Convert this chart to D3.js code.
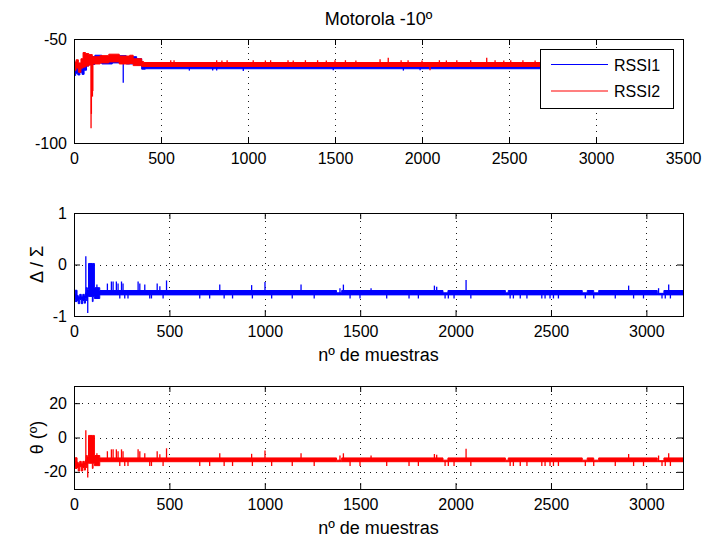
<!DOCTYPE html>
<html>
<head>
<meta charset="utf-8">
<script src="https://cdn.jsdelivr.net/npm/d3@7"></script>
<style>
  html, body { margin: 0; padding: 0; background: #fff; }
  svg text { font-family: Arial, "Liberation Sans", Helvetica, sans-serif; fill: #000; }
</style>
</head>
<body>
<svg id="fig" width="704" height="540"></svg>
<script>
// ---------- data ----------
// Dense traces are stored as stepped bands: [sample, low, high] holds from
// that sample until the next breakpoint. Single-sample excursions are spikes: [sample, value].

const seriesNames = ["RSSI1", "RSSI2"];
const titleText = "Motorola -10º";
const xLabelText = "nº de muestras";

const rssiXTicks = [0, 500, 1000, 1500, 2000, 2500, 3000, 3500];
const rssiYTicks = [-100, -50];
const sampleXTicks = [0, 500, 1000, 1500, 2000, 2500, 3000];
const ratioYTicks = [-1, 0, 1];
const thetaYTicks = [-20, 0, 20];
const sampleCount = 3192;

const rssi1Band = [
  [0, -67.5, -63.5], [10, -66.5, -62.5], [22, -67.3, -64], [34, -66, -62.5], [46, -67, -63.5],
  [58, -65, -61.5], [72, -63, -59.5], [85, -62.2, -58.5], [120, -61.5, -57.8], [160, -62, -58.5],
  [220, -61.5, -58], [300, -62, -58.5], [360, -62.5, -59.5], [389, -64.5, -62.5],
  [410, -64.3, -63.0], [3190, -64.3, -63.0]
];
const rssi1Spikes = [
  [283, -71], [663, -65.2], [797, -65.2], [820, -65.2], [973, -65.4], [1490, -65],
  [1893, -65.2], [1989, -65]
];
const rssi2Band = [
  [0, -65, -61], [12, -64, -60], [25, -66, -61.5], [40, -64, -59.5], [52, -63.5, -56.5],
  [66, -63, -57], [85, -62.5, -57.5], [105, -62, -58.5], [150, -61.5, -58], [200, -61, -57.3],
  [260, -62, -58.2], [320, -61.8, -57.8], [340, -62.8, -59.5], [389, -63.2, -60.8],
  [400, -63.2, -61.3], [3190, -63.2, -61.3]
];
const rssi2Spikes = [
  [98, -92.9], [100, -86], [106, -77.7], [108, -75],
  [556, -60.2], [575, -60.2], [820, -60.2], [850, -60.3], [880, -60.2], [1030, -60.2],
  [1100, -60.3], [1130, -60.2], [1230, -60.2], [1260, -60.3], [1330, -60.2], [1400, -60.2],
  [1450, -60.3], [1500, -60.2], [1560, -60.2], [1620, -60.3], [1759, -59.7], [1806, -59.0],
  [1880, -60.2], [1920, -60.2], [2000, -60.3], [2046, -65], [2100, -60.2], [2140, -60.3],
  [2200, -60.2], [2280, -60.2], [2372, -59.0], [2420, -60.2], [2470, -60.3], [2510, -60.2],
  [2580, -60.2], [2650, -60.3]
];

const ratioBand = [
  [0, -0.68, -0.57], [6, -0.72, -0.50], [16, -0.70, -0.60], [22, -0.76, -0.62], [30, -0.68, -0.58],
  [38, -0.76, -0.62], [46, -0.70, -0.58], [54, -0.75, -0.60], [60, -0.66, -0.55], [64, -0.70, -0.45],
  [70, -0.62, -0.48], [76, -0.62, 0.02], [96, -0.72, 0.02], [100, -0.62, 0.02], [107, -0.66, -0.45],
  [135, -0.59, -0.505], [1376, -0.59, -0.55], [1403, -0.59, -0.505], [1934, -0.59, -0.55],
  [1960, -0.59, -0.505], [2261, -0.59, -0.55], [2276, -0.59, -0.505], [2664, -0.59, -0.55],
  [2690, -0.59, -0.505], [2724, -0.59, -0.55], [2750, -0.59, -0.505], [3057, -0.59, -0.56],
  [3092, -0.59, -0.505], [3192, -0.59, -0.505]
];
const ratioSpikes = [
  [62, 0.16], [72, -0.94], [120, -0.39], [175, -0.37], [196, -0.33], [205, -0.33], [222, -0.33],
  [231, -0.37], [240, -0.66], [249, -0.33], [257, -0.37], [266, -0.66], [283, -0.66], [336, -0.33],
  [345, -0.37], [371, -0.39], [397, -0.66], [406, -0.66], [436, -0.37], [450, -0.42], [467, -0.66],
  [485, -0.31], [659, -0.66], [711, -0.66], [764, -0.39], [787, -0.66], [831, -0.66], [931, -0.40],
  [935, -0.66], [1001, -0.34], [1036, -0.66], [1144, -0.66], [1190, -0.39], [1259, -0.66],
  [1394, -0.46], [1412, -0.39], [1447, -0.66], [1499, -0.66], [1557, -0.46], [1639, -0.66],
  [1756, -0.66], [1805, -0.66], [1889, -0.41], [1901, -0.43], [1945, -0.66], [1962, -0.66],
  [1992, -0.66], [2055, -0.30], [2080, -0.66], [2286, -0.66], [2303, -0.66], [2339, -0.66],
  [2374, -0.66], [2452, -0.66], [2469, -0.66], [2495, -0.66], [2513, -0.66], [2539, -0.66],
  [2680, -0.66], [2724, -0.66], [2837, -0.66], [2907, -0.41], [2933, -0.66], [2985, -0.66],
  [3064, -0.46], [3082, -0.66], [3099, -0.66], [3117, -0.39], [3126, -0.66]
];

const thetaBand = [
  [0, -17, -13.6], [6, -18, -11.8], [16, -17.5, -14.4], [22, -19.5, -15], [30, -17, -13.9],
  [38, -19.5, -15], [46, -17.5, -13.9], [54, -19, -14.4], [60, -16.4, -13.2], [64, -17.5, -10.5],
  [70, -15, -11.3], [76, -15, 1.2], [96, -18, 1.2], [100, -15, 1.2], [107, -16.4, -10.5],
  [135, -14.1, -11.9], [1376, -14.1, -13.2], [1403, -14.1, -11.9], [1934, -14.1, -13.2],
  [1960, -14.1, -11.9], [2261, -14.1, -13.2], [2276, -14.1, -11.9], [2664, -14.1, -13.2],
  [2690, -14.1, -11.9], [2724, -14.1, -13.2], [2750, -14.1, -11.9], [3057, -14.1, -13.5],
  [3092, -14.1, -11.9], [3192, -14.1, -11.9]
];
const thetaSpikes = [
  [62, 4.2], [72, -23.3], [120, -9.2], [175, -8.0], [196, -6.9], [205, -6.9], [222, -6.9],
  [231, -8.0], [240, -16.6], [249, -6.9], [257, -8.0], [266, -16.6], [283, -16.6], [336, -6.9],
  [345, -8.0], [371, -9.2], [397, -16.6], [406, -16.6], [436, -8.0], [450, -9.8], [467, -16.6],
  [485, -6.3], [659, -16.6], [711, -16.6], [764, -9.2], [787, -16.6], [831, -16.6], [931, -9.5],
  [935, -16.6], [1001, -7.5], [1036, -16.6], [1144, -16.6], [1190, -9.2], [1259, -16.6],
  [1394, -10.5], [1412, -9.2], [1447, -16.6], [1499, -16.6], [1557, -10.5], [1639, -16.6],
  [1756, -16.6], [1805, -16.6], [1889, -9.6], [1901, -10.0], [1945, -16.6], [1962, -16.6],
  [1992, -16.6], [2055, -6.6], [2080, -16.6], [2286, -16.6], [2303, -16.6], [2339, -16.6],
  [2374, -16.6], [2452, -16.6], [2469, -16.6], [2495, -16.6], [2513, -16.6], [2539, -16.6],
  [2680, -16.6], [2724, -16.6], [2837, -16.6], [2907, -9.6], [2933, -16.6], [2985, -16.6],
  [3064, -10.5], [3082, -16.6], [3099, -16.6], [3117, -9.2], [3126, -16.6]
];

// ---------- layout ----------
const svg = d3.select("#fig");
const BLUE = "#0000ff", RED = "#ff0000";
const TICK_LEN = 6;
const FONT = 16;
const LABEL_FONT = 18;

const panels = [
  { id: "rssi", left: 74, right: 683, top: 39, bottom: 143,
    xDomain: [0, 3500], yDomain: [-100, -50], xTicks: rssiXTicks, yTicks: rssiYTicks,
    traces: [
      { band: rssi1Band, spikes: rssi1Spikes, color: BLUE },
      { band: rssi2Band, spikes: rssi2Spikes, color: RED }
    ] },
  { id: "ratio", left: 74, right: 683, top: 213, bottom: 316,
    xDomain: [0, sampleCount], yDomain: [-1, 1], xTicks: sampleXTicks, yTicks: ratioYTicks,
    traces: [{ band: ratioBand, spikes: ratioSpikes, color: BLUE }],
    yLabel: "Δ / Σ", xLabel: xLabelText },
  { id: "theta", left: 74, right: 683, top: 386, bottom: 489,
    xDomain: [0, sampleCount], yDomain: [-30, 30], xTicks: sampleXTicks, yTicks: thetaYTicks,
    traces: [{ band: thetaBand, spikes: thetaSpikes, color: RED }],
    yLabel: "θ (º)", xLabel: xLabelText }
];

const defs = svg.append("defs");

panels.forEach(p => {
  const x = d3.scaleLinear().domain(p.xDomain).range([p.left, p.right]);
  const y = d3.scaleLinear().domain(p.yDomain).range([p.bottom, p.top]);
  const g = svg.append("g").attr("class", "panel-" + p.id);

  // dotted grid, below the data
  const grid = g.append("g").attr("stroke", "#1a1a1a").attr("stroke-width", 1)
    .attr("stroke-dasharray", "1,5");
  p.xTicks.filter(t => t > p.xDomain[0] && t < p.xDomain[1]).forEach(t => {
    const px = Math.round(x(t)) + 0.5;
    grid.append("line").attr("x1", px).attr("x2", px).attr("y1", p.top + 2).attr("y2", p.bottom);
  });
  p.yTicks.filter(t => t > p.yDomain[0] && t < p.yDomain[1]).forEach(t => {
    const py = Math.round(y(t)) + 0.5;
    grid.append("line").attr("x1", p.left + 2).attr("x2", p.right).attr("y1", py).attr("y2", py);
  });

  // traces clipped to the axes box
  defs.append("clipPath").attr("id", "clip-" + p.id)
    .append("rect").attr("x", p.left).attr("y", p.top)
    .attr("width", p.right - p.left).attr("height", p.bottom - p.top);
  const plot = g.append("g").attr("clip-path", `url(#clip-${p.id})`);

  const area = d3.area()
    .curve(d3.curveStepAfter)
    .x(d => x(d[0]))
    .y0(d => y(d[1]))
    .y1(d => y(d[2]));

  p.traces.forEach(tr => {
    const tg = plot.append("g");
    tg.append("path").datum(tr.band)
      .attr("d", area)
      .attr("fill", tr.color)
      .attr("stroke", tr.color)
      .attr("stroke-width", 1);
    // spikes start from the band level that holds at their sample
    const bisect = d3.bisector(d => d[0]).right;
    tg.selectAll("line.spike").data(tr.spikes).join("line")
      .attr("class", "spike")
      .attr("x1", d => x(d[0])).attr("x2", d => x(d[0]))
      .attr("y1", d => {
        const b = tr.band[Math.max(0, bisect(tr.band, d[0]) - 1)];
        return y((b[1] + b[2]) / 2);
      })
      .attr("y2", d => y(d[1]))
      .attr("stroke", tr.color)
      .attr("stroke-width", 1.3);
  });

  // axes with inward ticks on every side
  const fmt = d => String(d);
  const axB = g.append("g").attr("transform", `translate(0,${p.bottom})`)
    .call(d3.axisBottom(x).tickValues(p.xTicks).tickSizeInner(-TICK_LEN).tickSizeOuter(0)
      .tickPadding(10).tickFormat(fmt));
  const axT = g.append("g").attr("transform", `translate(0,${p.top})`)
    .call(d3.axisTop(x).tickValues(p.xTicks).tickSizeInner(-TICK_LEN).tickSizeOuter(0)
      .tickFormat(""));
  const axL = g.append("g").attr("transform", `translate(${p.left},0)`)
    .call(d3.axisLeft(y).tickValues(p.yTicks).tickSizeInner(-TICK_LEN).tickSizeOuter(0)
      .tickPadding(7).tickFormat(fmt));
  const axR = g.append("g").attr("transform", `translate(${p.right},0)`)
    .call(d3.axisRight(y).tickValues(p.yTicks).tickSizeInner(-TICK_LEN).tickSizeOuter(0)
      .tickFormat(""));
  [axB, axT, axL, axR].forEach(a => {
    a.select(".domain").remove();
    a.selectAll("line").attr("stroke", "#000");
    a.selectAll("text").attr("font-size", FONT)
      .attr("font-family", 'Arial, "Liberation Sans", Helvetica, sans-serif').attr("fill", "#000");
  });

  // box
  g.append("rect")
    .attr("x", p.left + 0.5).attr("y", p.top + 0.5)
    .attr("width", p.right - p.left).attr("height", p.bottom - p.top)
    .attr("fill", "none").attr("stroke", "#000").attr("stroke-width", 1);

  if (p.xLabel) {
    g.append("text").attr("x", (p.left + p.right) / 2).attr("y", p.bottom + 44.5)
      .attr("text-anchor", "middle").attr("font-size", LABEL_FONT).text(p.xLabel);
  }
  if (p.yLabel) {
    g.append("text")
      .attr("transform", `translate(43,${(p.top + p.bottom) / 2}) rotate(-90)`)
      .attr("text-anchor", "middle").attr("font-size", LABEL_FONT).text(p.yLabel);
  }
});

// title
const firstPanel = panels[0];
svg.append("text").attr("x", (firstPanel.left + firstPanel.right) / 2).attr("y", 25)
  .attr("text-anchor", "middle").attr("font-size", LABEL_FONT).text(titleText);

// legend
const lg = svg.append("g").attr("transform", "translate(540,49)");
lg.append("rect").attr("x", 0.5).attr("y", 0.5).attr("width", 133).attr("height", 59)
  .attr("fill", "#fff").attr("stroke", "#000").attr("stroke-width", 1);
[BLUE, RED].forEach((c, i) => {
  const cy = 15.5 + i * 26.5;
  lg.append("line").attr("x1", 11).attr("x2", 68).attr("y1", cy).attr("y2", cy)
    .attr("stroke", c).attr("stroke-width", 1.2);
  lg.append("text").attr("x", 74).attr("y", cy + 6).attr("font-size", FONT).text(seriesNames[i]);
});
</script>
</body>
</html>
